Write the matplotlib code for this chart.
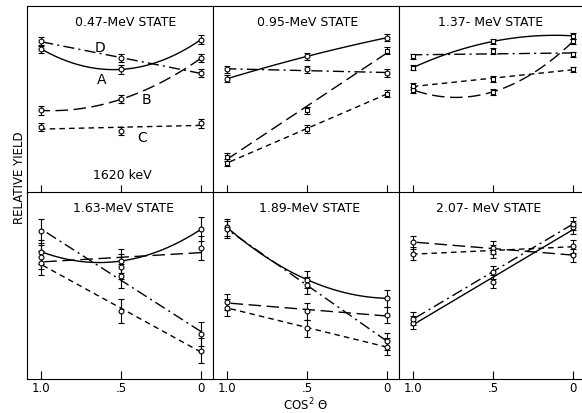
import numpy as np
import matplotlib.pyplot as plt

plt.rcParams['font.family'] = 'DejaVu Sans'

# cos^2 theta positions
cos2 = [1.0, 0.5, 0.0]

# relative yield (arbitrary units), one list per curve
# 0.47-MeV state
p047_A = [7.7, 6.6, 8.2]
p047_D = [8.1, 7.2, 6.4]
p047_B = [4.4, 5.0, 7.2]
p047_C = [3.5, 3.3, 3.7]
# 0.95-MeV state
p095_solid = [6.1, 7.3, 8.3]
p095_dashdot = [6.6, 6.6, 6.4]
p095_long = [1.9, 4.4, 7.6]
p095_short = [1.6, 3.4, 5.3]
# 1.37-MeV state
p137_solid = [6.7, 8.1, 8.4]
p137_dashdot = [7.3, 7.6, 7.4]
p137_long = [5.5, 5.4, 8.1]
p137_short = [5.7, 6.1, 6.6]
# 1.63-MeV state
p163_solid = [6.8, 6.3, 8.0]
p163_long = [6.5, 6.0, 7.0]
p163_dashdot = [7.9, 5.5, 2.4]
p163_short = [6.2, 3.6, 1.5]
# 1.89-MeV state
p189_solid = [8.1, 5.3, 4.3]
p189_dashdot = [8.0, 5.0, 2.0]
p189_long = [4.1, 3.6, 3.4]
p189_short = [3.8, 2.7, 1.7]
# 2.07-MeV state
p207_long = [7.3, 7.0, 6.6]
p207_short = [6.7, 6.8, 7.1]
p207_solid = [3.0, 5.2, 8.1]
p207_dashdot = [3.2, 5.7, 8.3]

titles = ['0.47-MeV STATE', '0.95-MeV STATE', '1.37- MeV STATE',
          '1.63-MeV STATE', '1.89-MeV STATE', '2.07- MeV STATE']
errs = [0.22, 0.2, 0.15, 0.65, 0.45, 0.35]

SOLID = '-'
LONG = (0, (9, 4))
SHORT = (0, (4, 3))
DASHDOT = (0, (8, 3, 1.5, 3))

# (values, linestyle, fit degree, marker)
panels = [
    [(p047_A, SOLID, 2, 'o'), (p047_D, DASHDOT, 1, 'o'),
     (p047_B, LONG, 2, 'o'), (p047_C, SHORT, 1, 'o')],
    [(p095_solid, SOLID, 2, 'o'), (p095_dashdot, DASHDOT, 1, 'o'),
     (p095_long, LONG, 1, 's'), (p095_short, SHORT, 1, 's')],
    [(p137_solid, SOLID, 2, 's'), (p137_dashdot, DASHDOT, 1, 's'),
     (p137_long, LONG, 2, 's'), (p137_short, SHORT, 1, 's')],
    [(p163_solid, SOLID, 2, 'o'), (p163_long, LONG, 1, 'o'),
     (p163_dashdot, DASHDOT, 1, 'o'), (p163_short, SHORT, 1, 'o')],
    [(p189_solid, SOLID, 2, 'o'), (p189_dashdot, DASHDOT, 1, 'o'),
     (p189_long, LONG, 1, 'o'), (p189_short, SHORT, 1, 'o')],
    [(p207_long, LONG, 1, 'o'), (p207_short, SHORT, 1, 'o'),
     (p207_solid, SOLID, 1, 'o'), (p207_dashdot, DASHDOT, 1, 'o')],
]

W, H = 582, 414
fig = plt.figure(figsize=(W / 100, H / 100), dpi=100)

lefts = [27, 213, 399]
tops = [7, 193]
pw, ph = 186, 186.5
title_x = [0.53, 0.51, 0.49, 0.52, 0.52, 0.48]

xs = np.linspace(0, 1, 60)
for i, series in enumerate(panels):
    r, c = divmod(i, 3)
    ax = fig.add_axes([lefts[c] / W, 1 - (tops[r] + ph) / H, pw / W, ph / H])
    for vals, ls, deg, mk in series:
        coef = np.polyfit(cos2, vals, deg)
        ax.plot(xs, np.polyval(coef, xs), color='black', lw=1.0, linestyle=ls)
        ax.errorbar(cos2, vals, yerr=errs[i], fmt=mk, ms=3.5, mfc='white',
                    mec='black', mew=0.8, ecolor='black', elinewidth=0.8,
                    capsize=2.5, capthick=0.8, zorder=3)
    ax.set_xlim(1.088, -0.075)
    ax.set_ylim(0, 10)
    ax.set_yticks([])
    ax.set_xticks(cos2)
    ax.tick_params(axis='x', direction='in', length=6, width=0.8,
                   labelsize=8.5, pad=2)
    if r == 0:
        ax.set_xticklabels([])
    else:
        ax.set_xticklabels(['1.0', '.5', '0'])
    for s in ax.spines.values():
        s.set_linewidth(0.8)
    if c == 2:
        ax.spines['right'].set_visible(False)
    ax.text(title_x[i], 0.915, titles[i], transform=ax.transAxes,
            ha='center', va='center', fontsize=9)
    if i == 0:
        ax.text(0.63, 7.8, 'D', ha='center', va='center', fontsize=10)
        ax.text(0.62, 6.1, 'A', ha='center', va='center', fontsize=10)
        ax.text(0.34, 5.0, 'B', ha='center', va='center', fontsize=10)
        ax.text(0.37, 3.0, 'C', ha='center', va='center', fontsize=10)
        ax.text(0.49, 0.97, '1620 keV', ha='center', va='center', fontsize=9)

fig.text(20 / W, 1 - 178 / H, 'RELATIVE YIELD', rotation=90,
         ha='center', va='center', fontsize=8.5)
fig.text(305 / W, 1 - 405 / H, 'COS$^2$ Θ', ha='center', va='center',
         fontsize=8.5)

fig.savefig('out.png', dpi=100)
